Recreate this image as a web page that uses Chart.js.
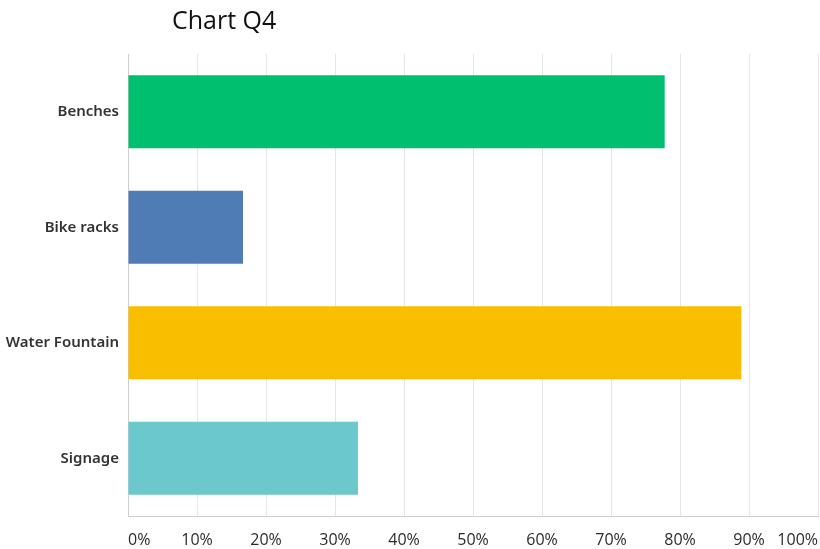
<!DOCTYPE html>
<html>
<head>
<meta charset="utf-8">
<script src="https://cdn.jsdelivr.net/npm/chart.js@4"></script>
<style>
  html, body { margin: 0; padding: 0; background: #fff; }
  #wrap { width: 820px; height: 549px; position: relative; }
</style>
</head>
<body>
<div id="wrap"><canvas id="chartQ4"></canvas></div>
<script>
// ====== Data ======
const categories = ["Benches", "Bike racks", "Water Fountain", "Signage"];
const percentValues = [77.78, 16.67, 88.89, 33.33];
const barColors = ["#00bf6f", "#507cb6", "#f9be00", "#6bc8cd"];
const xTicks = [0, 10, 20, 30, 40, 50, 60, 70, 80, 90, 100];
const chartTitle = "Chart Q4";

// ====== Title drawn at its own spot ======
const titlePlugin = {
  id: "titleText",
  afterDraw(chart) {
    const ctx = chart.ctx;
    ctx.save();
    ctx.font = "25px 'Open Sans', sans-serif";
    ctx.fillStyle = "#111";
    ctx.textBaseline = "middle";
    ctx.fillText(chartTitle, 172, 22);
    ctx.restore();
  }
};

new Chart(document.getElementById("chartQ4"), {
  type: "bar",
  data: {
    labels: categories,
    datasets: [{
      data: percentValues,
      backgroundColor: barColors,
      borderWidth: 0,
      barPercentage: 0.63,
      categoryPercentage: 1
    }]
  },
  options: {
    indexAxis: "y",
    responsive: true,
    maintainAspectRatio: false,
    animation: false,
    layout: { padding: { top: 54, right: 2, left: 0, bottom: 0 } },
    plugins: { legend: { display: false }, tooltip: { enabled: false } },
    scales: {
      x: {
        min: 0,
        max: 100,
        afterBuildTicks: s => { s.ticks = xTicks.map(v => ({ value: v })); },
        afterFit: s => { s.height = 33; s.paddingLeft = 0; s.paddingRight = 0; },
        grid: { color: "#e6e6e6", drawTicks: false },
        border: { color: "#cfcfcf" },
        ticks: {
          align: "inner",
          padding: 15,
          maxRotation: 0,
          color: "#2b2b2b",
          font: { family: "'Open Sans', sans-serif", size: 16, weight: "500" },
          callback: v => v + "%"
        }
      },
      y: {
        afterFit: s => { s.width = 128; s.paddingTop = 0; s.paddingBottom = 0; },
        grid: { display: false, drawTicks: false },
        border: { color: "#cfcfcf" },
        ticks: {
          padding: 9,
          color: "#333",
          font: { family: "'Noto Sans', sans-serif", size: 15, weight: "600" }
        }
      }
    }
  },
  plugins: [titlePlugin]
});
</script>
</body>
</html>
